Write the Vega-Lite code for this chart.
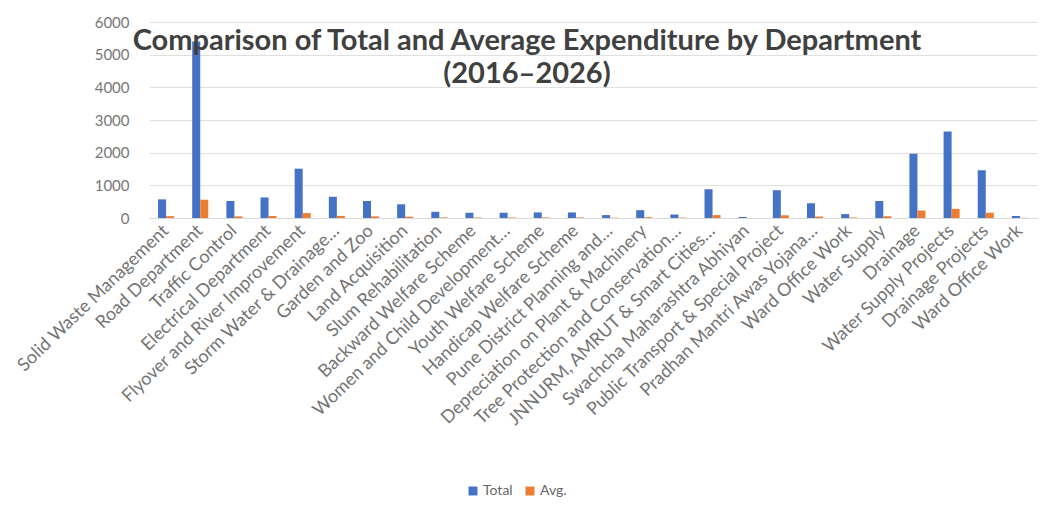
{
  "$schema": "https://vega.github.io/schema/vega-lite/v6.json",
  "autosize": "none",
  "width": 888,
  "height": 196,
  "padding": {"left": 149, "top": 22, "right": 4, "bottom": 313},
  "background": "white",
  "title": {
    "text": ["Comparison of Total and Average Expenditure by Department", "(2016–2026)"],
    "font": "Lato",
    "fontSize": 29,
    "fontWeight": "bold",
    "color": "#404040",
    "anchor": "middle",
    "frame": "group",
    "baseline": "alphabetic",
    "offset": 0,
    "dx": -66,
    "dy": 97,
    "lineHeight": 33
  },
  "data": {
    "values": [
      {"dept": "Solid Waste Management", "series": "Total", "value": 570},
      {"dept": "Solid Waste Management", "series": "Avg.", "value": 57},
      {"dept": "Road Department", "series": "Total", "value": 5400},
      {"dept": "Road Department", "series": "Avg.", "value": 560},
      {"dept": "Traffic Control", "series": "Total", "value": 520},
      {"dept": "Traffic Control", "series": "Avg.", "value": 50},
      {"dept": "Electrical Department", "series": "Total", "value": 630},
      {"dept": "Electrical Department", "series": "Avg.", "value": 62},
      {"dept": "Flyover and River Improvement", "series": "Total", "value": 1510},
      {"dept": "Flyover and River Improvement", "series": "Avg.", "value": 150},
      {"dept": "Storm Water & Drainage…", "series": "Total", "value": 650},
      {"dept": "Storm Water & Drainage…", "series": "Avg.", "value": 65},
      {"dept": "Garden and Zoo", "series": "Total", "value": 520},
      {"dept": "Garden and Zoo", "series": "Avg.", "value": 50},
      {"dept": "Land Acquisition", "series": "Total", "value": 420},
      {"dept": "Land Acquisition", "series": "Avg.", "value": 40},
      {"dept": "Slum Rehabilitation", "series": "Total", "value": 190},
      {"dept": "Slum Rehabilitation", "series": "Avg.", "value": 18},
      {"dept": "Backward Welfare Scheme", "series": "Total", "value": 160},
      {"dept": "Backward Welfare Scheme", "series": "Avg.", "value": 15},
      {"dept": "Women and Child Development…", "series": "Total", "value": 160},
      {"dept": "Women and Child Development…", "series": "Avg.", "value": 15},
      {"dept": "Youth Welfare Scheme", "series": "Total", "value": 170},
      {"dept": "Youth Welfare Scheme", "series": "Avg.", "value": 17},
      {"dept": "Handicap Welfare Scheme", "series": "Total", "value": 170},
      {"dept": "Handicap Welfare Scheme", "series": "Avg.", "value": 17},
      {"dept": "Pune District Planning and…", "series": "Total", "value": 90},
      {"dept": "Pune District Planning and…", "series": "Avg.", "value": 9},
      {"dept": "Depreciation on Plant & Machinery", "series": "Total", "value": 240},
      {"dept": "Depreciation on Plant & Machinery", "series": "Avg.", "value": 24},
      {"dept": "Tree Protection and Conservation…", "series": "Total", "value": 110},
      {"dept": "Tree Protection and Conservation…", "series": "Avg.", "value": 11},
      {"dept": "JNNURM, AMRUT & Smart Cities…", "series": "Total", "value": 880},
      {"dept": "JNNURM, AMRUT & Smart Cities…", "series": "Avg.", "value": 88},
      {"dept": "Swachcha Maharashtra Abhiyan", "series": "Total", "value": 30},
      {"dept": "Swachcha Maharashtra Abhiyan", "series": "Avg.", "value": 3},
      {"dept": "Public Transport & Special Project", "series": "Total", "value": 850},
      {"dept": "Public Transport & Special Project", "series": "Avg.", "value": 85},
      {"dept": "Pradhan Mantri Awas Yojana…", "series": "Total", "value": 450},
      {"dept": "Pradhan Mantri Awas Yojana…", "series": "Avg.", "value": 45},
      {"dept": "Ward Office Work", "series": "Total", "value": 120},
      {"dept": "Ward Office Work", "series": "Avg.", "value": 12},
      {"dept": "Water Supply", "series": "Total", "value": 520},
      {"dept": "Water Supply", "series": "Avg.", "value": 52},
      {"dept": "Drainage", "series": "Total", "value": 1970},
      {"dept": "Drainage", "series": "Avg.", "value": 230},
      {"dept": "Water Supply Projects", "series": "Total", "value": 2650},
      {"dept": "Water Supply Projects", "series": "Avg.", "value": 280},
      {"dept": "Drainage Projects", "series": "Total", "value": 1460},
      {"dept": "Drainage Projects", "series": "Avg.", "value": 160},
      {"dept": "Ward Office Work (2)", "series": "Total", "value": 60},
      {"dept": "Ward Office Work (2)", "series": "Avg.", "value": 6}
    ]
  },
  "mark": {"type": "bar"},
  "encoding": {
    "x": {
      "field": "dept",
      "type": "nominal",
      "sort": null,
      "scale": {"paddingInner": 0.53, "paddingOuter": 0.265},
      "axis": {
        "title": null,
        "labelAngle": -44,
        "labelAlign": "right",
        "labelBaseline": "middle",
        "labelPadding": 10,
        "labelFont": "Lato",
        "labelFontSize": 18,
        "labelColor": "#747474",
        "labelLimit": 400,
        "labelExpr": "replace(datum.label, ' (2)', '')",
        "ticks": false,
        "domain": true,
        "domainColor": "#d9d9d9",
        "grid": false
      }
    },
    "xOffset": {
      "field": "series",
      "type": "nominal",
      "sort": ["Total", "Avg."],
      "scale": {"paddingInner": 0, "paddingOuter": 0}
    },
    "y": {
      "field": "value",
      "type": "quantitative",
      "scale": {"domain": [0, 6000], "nice": false},
      "axis": {
        "title": null,
        "values": [0, 1000, 2000, 3000, 4000, 5000, 6000],
        "format": "d",
        "labelFont": "Lato",
        "labelFontSize": 15,
        "labelColor": "#777777",
        "labelPadding": 20,
        "ticks": false,
        "domain": false,
        "grid": true,
        "gridColor": "#e0e0e0"
      }
    },
    "color": {
      "field": "series",
      "type": "nominal",
      "sort": ["Total", "Avg."],
      "scale": {"domain": ["Total", "Avg."], "range": ["#4472C4", "#ED7D31"]},
      "legend": {
        "title": null,
        "orient": "none",
        "legendX": 317,
        "legendY": 462,
        "direction": "horizontal",
        "symbolType": "square",
        "symbolSize": 80,
        "symbolStrokeWidth": 0,
        "labelFont": "Lato",
        "labelFontSize": 14,
        "labelColor": "#666666",
        "columnPadding": 10,
        "labelOffset": 3
      }
    }
  },
  "config": {
    "view": {"stroke": null}
  }
}
